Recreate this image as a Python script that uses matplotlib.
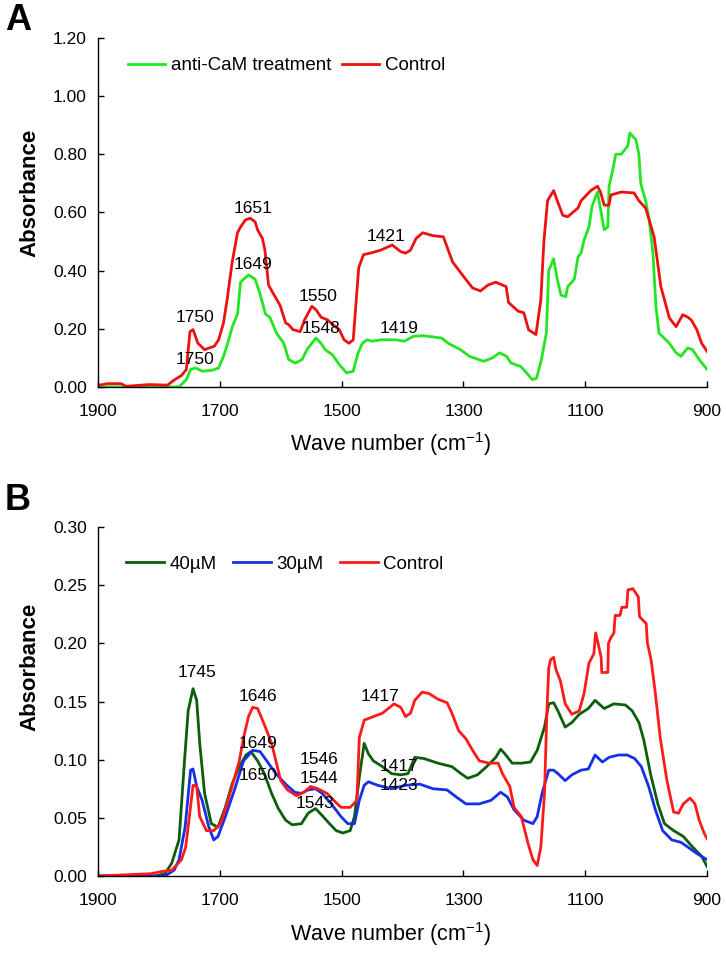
import numpy as np
import matplotlib
matplotlib.use('Agg')
import matplotlib.pyplot as plt

plt.rcParams['font.family'] = ['Liberation Sans', 'DejaVu Sans']
plt.rcParams['mathtext.fontset'] = 'custom'
plt.rcParams['mathtext.rm'] = 'Liberation Sans'
plt.rcParams['mathtext.it'] = 'Liberation Sans:italic'

# ---- panel A data ----
a_ctrl_wn = [1900, 1885, 1870, 1862, 1854, 1816, 1786, 1774, 1763, 1755, 1749, 1744, 1736, 1725,
             1709, 1702, 1694, 1688, 1680, 1671, 1666, 1658, 1650, 1642, 1638, 1630, 1626, 1620,
             1612, 1601, 1592, 1587, 1580, 1568, 1561, 1549, 1542, 1534, 1523, 1511, 1504, 1496,
             1488, 1481, 1472, 1464, 1453, 1436, 1417, 1403, 1395, 1387, 1378, 1367, 1350, 1333,
             1318, 1300, 1285, 1272, 1260, 1247, 1230, 1226, 1210, 1201, 1193, 1181, 1173, 1168,
             1162, 1152, 1146, 1137, 1129, 1112, 1107, 1091, 1080, 1075, 1069, 1061, 1058, 1041,
             1020, 1012, 1001, 987, 976, 962, 951, 940, 932, 926, 917, 909, 900]
a_ctrl = [0.005, 0.011, 0.011, 0.011, 0.002, 0.008, 0.006, 0.025, 0.039, 0.06, 0.19, 0.197, 0.15,
          0.128, 0.14, 0.162, 0.22, 0.30, 0.425, 0.53, 0.55, 0.574, 0.58, 0.567, 0.54, 0.51, 0.47,
          0.35, 0.32, 0.28, 0.22, 0.214, 0.197, 0.19, 0.23, 0.277, 0.265, 0.24, 0.23, 0.208, 0.197,
          0.162, 0.15, 0.162, 0.41, 0.455, 0.46, 0.47, 0.488, 0.465, 0.46, 0.47, 0.51, 0.53, 0.52,
          0.516, 0.43, 0.38, 0.34, 0.33, 0.35, 0.36, 0.345, 0.29, 0.26, 0.255, 0.196, 0.18, 0.30,
          0.50, 0.64, 0.675, 0.64, 0.59, 0.585, 0.615, 0.64, 0.675, 0.69, 0.67, 0.625, 0.625, 0.66,
          0.67, 0.667, 0.64, 0.615, 0.516, 0.345, 0.237, 0.207, 0.248, 0.24, 0.23, 0.197, 0.15, 0.122]

a_anti_wn = [1900, 1786, 1767, 1755, 1748, 1740, 1729, 1713, 1702, 1694, 1687, 1679, 1671, 1666,
             1653, 1642, 1634, 1625, 1618, 1607, 1595, 1587, 1576, 1565, 1557, 1549, 1542, 1534,
             1527, 1515, 1504, 1492, 1481, 1473, 1466, 1458, 1450, 1435, 1412, 1397, 1382, 1366,
             1336, 1325, 1305, 1290, 1267, 1252, 1241, 1229, 1222, 1206, 1199, 1187, 1180, 1172,
             1164, 1160, 1152, 1146, 1140, 1132, 1129, 1118, 1112, 1107, 1102, 1094, 1089, 1082,
             1080, 1074, 1069, 1063, 1061, 1055, 1050, 1041, 1030, 1027, 1017, 1012, 1009, 1001,
             995, 989, 984, 979, 962, 951, 943, 932, 924, 913, 900]
a_anti = [0.0, 0.0, 0.0, 0.025, 0.06, 0.065, 0.054, 0.057, 0.065, 0.105, 0.15, 0.21, 0.25, 0.36,
          0.385, 0.37, 0.32, 0.25, 0.24, 0.185, 0.15, 0.094, 0.082, 0.094, 0.128, 0.15, 0.168, 0.15,
          0.128, 0.11, 0.077, 0.048, 0.054, 0.117, 0.15, 0.162, 0.157, 0.162, 0.162, 0.157, 0.174,
          0.176, 0.168, 0.15, 0.128, 0.105, 0.088, 0.10, 0.117, 0.105, 0.082, 0.07, 0.054, 0.025,
          0.03, 0.094, 0.185, 0.40, 0.44, 0.37, 0.316, 0.31, 0.345, 0.37, 0.447, 0.46, 0.505, 0.55,
          0.62, 0.66, 0.67, 0.60, 0.54, 0.55, 0.69, 0.745, 0.80, 0.80, 0.83, 0.873, 0.85, 0.80, 0.70,
          0.64, 0.575, 0.46, 0.275, 0.185, 0.15, 0.117, 0.105, 0.134, 0.128, 0.094, 0.06]

a_labels = ['1651', '1649', '1750', '1750', '1550', '1548', '1421', '1419']
a_lab_x = [1645, 1645, 1740, 1740, 1538, 1534, 1428, 1406]
a_lab_y = [0.615, 0.42, 0.24, 0.094, 0.31, 0.202, 0.516, 0.202]

# ---- panel B data ----
b_40_wn = [1900, 1805, 1790, 1779, 1767, 1758, 1752, 1744, 1738, 1733, 1725, 1714, 1703, 1691,
           1680, 1668, 1657, 1649, 1638, 1627, 1615, 1604, 1592, 1581, 1566, 1555, 1543, 1532,
           1520, 1509, 1498, 1486, 1479, 1471, 1463, 1456, 1448, 1433, 1418, 1403, 1391, 1380,
           1365, 1342, 1319, 1304, 1293, 1277, 1262, 1247, 1239, 1232, 1220, 1205, 1190, 1179,
           1167, 1160, 1152, 1145, 1133, 1122, 1110, 1095, 1084, 1069, 1053, 1034, 1023, 1012,
           1004, 993, 981, 970, 955, 939, 924, 909, 900]
b_40 = [0.0, 0.0, 0.002, 0.011, 0.031, 0.099, 0.142, 0.161, 0.151, 0.114, 0.071, 0.045, 0.042,
        0.059, 0.079, 0.094, 0.104, 0.107, 0.099, 0.088, 0.071, 0.058, 0.048, 0.044, 0.045, 0.054,
        0.058, 0.052, 0.045, 0.039, 0.037, 0.039, 0.051, 0.085, 0.114, 0.105, 0.099, 0.094, 0.088,
        0.087, 0.088, 0.102, 0.101, 0.097, 0.094, 0.088, 0.084, 0.087, 0.094, 0.102, 0.109, 0.105,
        0.097, 0.097, 0.098, 0.108, 0.128, 0.148, 0.149, 0.142, 0.128, 0.132, 0.139, 0.144, 0.151,
        0.144, 0.148, 0.147, 0.142, 0.132, 0.117, 0.088, 0.062, 0.045, 0.039, 0.034, 0.025, 0.017,
        0.008]

b_30_wn = [1900, 1790, 1775, 1767, 1757, 1748, 1744, 1738, 1729, 1718, 1710, 1703, 1691, 1676,
           1661, 1646, 1634, 1623, 1608, 1592, 1577, 1566, 1555, 1543, 1532, 1517, 1501, 1490,
           1479, 1471, 1463, 1456, 1441, 1418, 1395, 1372, 1350, 1327, 1312, 1296, 1274, 1255,
           1239, 1228, 1217, 1201, 1186, 1179, 1171, 1160, 1152, 1145, 1133, 1122, 1107, 1095,
           1084, 1072, 1061, 1046, 1031, 1019, 1008, 996, 985, 973, 958, 943, 932, 916, 900]
b_30 = [0.0, 0.0, 0.005, 0.014, 0.042, 0.091, 0.092, 0.077, 0.065, 0.042, 0.031, 0.034, 0.051,
        0.074, 0.099, 0.108, 0.107, 0.099, 0.088, 0.079, 0.072, 0.071, 0.074, 0.075, 0.071, 0.062,
        0.051, 0.045, 0.045, 0.065, 0.078, 0.081, 0.078, 0.075, 0.078, 0.079, 0.075, 0.074, 0.068,
        0.062, 0.062, 0.065, 0.072, 0.068, 0.057, 0.048, 0.045, 0.051, 0.071, 0.091, 0.091, 0.088,
        0.082, 0.087, 0.091, 0.092, 0.104, 0.098, 0.102, 0.104, 0.104, 0.101, 0.094, 0.077, 0.057,
        0.039, 0.031, 0.029, 0.025, 0.019, 0.014]

b_ctrl_wn = [1900, 1813, 1794, 1779, 1763, 1756, 1750, 1744, 1738, 1733, 1722, 1710, 1699, 1691,
             1680, 1668, 1661, 1653, 1646, 1638, 1630, 1623, 1615, 1608, 1600, 1589, 1574, 1562,
             1551, 1539, 1524, 1513, 1501, 1486, 1475, 1471, 1463, 1448, 1433, 1421, 1414, 1403,
             1395, 1387, 1380, 1368, 1357, 1342, 1327, 1319, 1308, 1296, 1285, 1274, 1258, 1243,
             1236, 1224, 1217, 1205, 1194, 1186, 1179, 1173, 1167, 1163, 1160, 1157, 1152, 1148,
             1141, 1133, 1122, 1110, 1102, 1094, 1086, 1083, 1079, 1074, 1073, 1063, 1062, 1058,
             1053, 1051, 1043, 1040, 1032, 1030, 1022, 1013, 1011, 1000, 998, 992, 985, 977, 966,
             955, 947, 939, 928, 920, 913, 905, 900]
b_ctrl = [0.0, 0.002, 0.004, 0.005, 0.014, 0.025, 0.051, 0.078, 0.077, 0.051, 0.039, 0.039, 0.045,
          0.057, 0.077, 0.099, 0.119, 0.137, 0.145, 0.144, 0.134, 0.125, 0.114, 0.099, 0.082, 0.074,
          0.069, 0.072, 0.077, 0.075, 0.071, 0.065, 0.059, 0.059, 0.065, 0.119, 0.134, 0.137, 0.14,
          0.145, 0.148, 0.145, 0.137, 0.14, 0.151, 0.158, 0.157, 0.152, 0.149, 0.14, 0.125, 0.118,
          0.108, 0.099, 0.097, 0.097, 0.088, 0.077, 0.059, 0.051, 0.028, 0.014, 0.009, 0.025, 0.071,
          0.142, 0.179, 0.186, 0.188, 0.177, 0.168, 0.148, 0.139, 0.142, 0.157, 0.183, 0.191, 0.209,
          0.2, 0.188, 0.175, 0.175, 0.2, 0.205, 0.209, 0.224, 0.224, 0.231, 0.231, 0.246, 0.247,
          0.24, 0.223, 0.217, 0.2, 0.186, 0.157, 0.119, 0.082, 0.055, 0.054, 0.062, 0.067, 0.062,
          0.048, 0.037, 0.032]

b_labels = ['1745', '1646', '1649', '1650', '1546', '1544', '1543', '1417', '1417', '1423']
b_lab_x = [1737, 1638, 1638, 1638, 1537, 1537, 1543, 1437, 1406, 1406]
b_lab_y = [0.175, 0.154, 0.114, 0.086, 0.100, 0.084, 0.062, 0.154, 0.094, 0.078]

xticks = [1900, 1700, 1500, 1300, 1100, 900]

fig = plt.figure(figsize=(7.26, 9.6), dpi=100)
axA = fig.add_axes([0.135, 0.597, 0.839, 0.3635])
axB = fig.add_axes([0.135, 0.0875, 0.839, 0.3635])


def style(ax, ymax, ystep, yfrac):
    ax.set_xlim(1900, 900)
    ax.set_ylim(0, ymax)
    ax.set_xticks(xticks)
    ax.set_yticks(np.arange(0, ymax + ystep / 2, ystep))
    ax.yaxis.set_major_formatter(matplotlib.ticker.FormatStrFormatter('%.2f'))
    for s in ['top', 'right']:
        ax.spines[s].set_visible(False)
    for s in ['left', 'bottom']:
        ax.spines[s].set_linewidth(1.0)
    ax.tick_params(direction='in', length=4, width=1, labelsize=12.5)
    ax.tick_params(axis='x', pad=12)
    ax.tick_params(axis='y', pad=8)
    ax.set_ylabel('Absorbance', fontsize=16, fontweight='bold')
    ax.yaxis.set_label_coords(-0.095, yfrac)
    ax.set_xlabel('Wave number (cm$^{-1}$)', fontsize=15.5)
    ax.xaxis.set_label_coords(0.48, -0.125)


axA.plot(a_anti_wn, a_anti, color='#22e622', lw=2.0, label='anti-CaM treatment')
axA.plot(a_ctrl_wn, a_ctrl, color='#ee1111', lw=2.0, label='Control')
style(axA, 1.2, 0.2, 0.556)
for t, x, y in zip(a_labels, a_lab_x, a_lab_y):
    axA.text(x, y, t, ha='center', va='center', fontsize=12.5)
axA.legend(loc='center left', bbox_to_anchor=(0.049, 0.92), ncol=2, frameon=False,
           fontsize=13.5, handlelength=2.0, handletextpad=0.3, columnspacing=0.55,
           borderpad=0, borderaxespad=0)

axB.plot(b_40_wn, b_40, color='#0b5e0b', lw=2.0, label='40\u00b5M')
axB.plot(b_30_wn, b_30, color='#1530e8', lw=2.0, label='30\u00b5M')
axB.plot(b_ctrl_wn, b_ctrl, color='#ff1a1a', lw=2.0, label='Control')
style(axB, 0.3, 0.05, 0.6)
for t, x, y in zip(b_labels, b_lab_x, b_lab_y):
    axB.text(x, y, t, ha='center', va='center', fontsize=12.5)
axB.legend(loc='center left', bbox_to_anchor=(0.046, 0.894), ncol=3, frameon=False,
           fontsize=13.5, handlelength=2.0, handletextpad=0.3, columnspacing=0.9,
           borderpad=0, borderaxespad=0)

fig.text(0.007, 1 - 21 / 960, 'A', fontsize=26, fontweight='bold', va='center', ha='left')
fig.text(0.007, 1 - 501 / 960, 'B', fontsize=26, fontweight='bold', va='center', ha='left')

fig.savefig('out.png', dpi=100)
